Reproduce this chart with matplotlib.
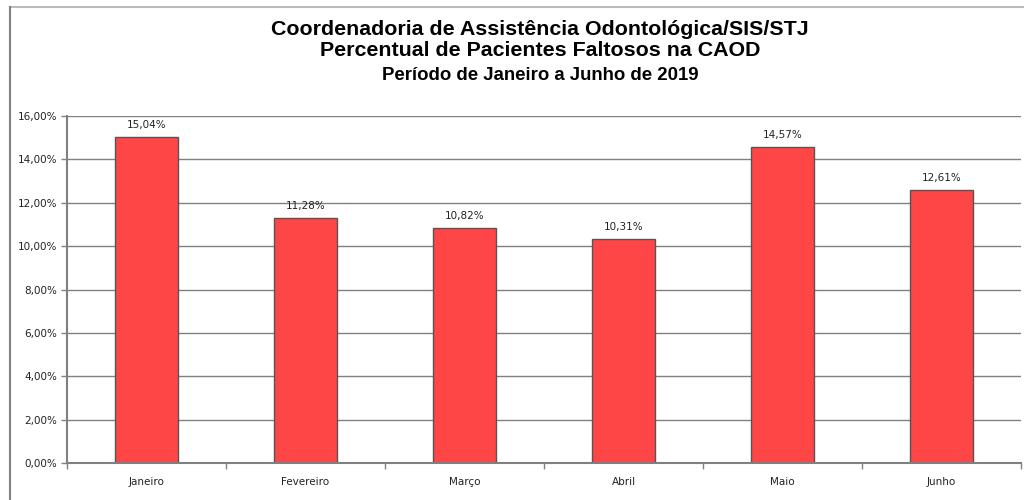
import matplotlib
matplotlib.use("Agg")
import matplotlib.pyplot as plt
from matplotlib.lines import Line2D
from matplotlib.ticker import FuncFormatter, FixedLocator
import numpy as np

months = ["Janeiro", "Fevereiro", "Março", "Abril", "Maio", "Junho"]
values = [15.04, 11.28, 10.82, 10.31, 14.57, 12.61]
yticks = [0, 2, 4, 6, 8, 10, 12, 14, 16]

title1 = "Coordenadoria de Assistência Odontológica/SIS/STJ"
title2 = "Percentual de Pacientes Faltosos na CAOD"
title3 = "Período de Janeiro a Junho de 2019"

def pct(v):
    return f"{v:.2f}".replace(".", ",") + "%"

fig = plt.figure(figsize=(10.24, 5.0), dpi=100)
ax = fig.add_axes([67/1024, 1-463/500, (1021-67)/1024, (463-116)/500])

x = np.arange(len(months))
bars = ax.bar(x, values, width=0.40, color="#ff4646", edgecolor="#555555", linewidth=1.0, zorder=3)

for xi, v in zip(x, values):
    ax.annotate(pct(v), (xi, v), xytext=(0, 5), textcoords="offset points",
                ha="center", va="bottom", fontsize=7.5, family="DejaVu Sans", color="#222222")

ax.set_xlim(-0.5, len(months)-0.5)
ax.set_ylim(0, 16)
ax.set_yticks(yticks)
ax.yaxis.set_major_formatter(FuncFormatter(lambda v, p: pct(v)))
ax.set_xticks(x)
ax.set_xticklabels(months)
ax.xaxis.set_minor_locator(FixedLocator(np.arange(-0.5, len(months), 1.0)))
ax.tick_params(axis="x", which="major", length=0, pad=10, labelsize=7.5, labelcolor="#222222")
ax.tick_params(axis="x", which="minor", length=4, width=1, color="#808080", direction="out")
ax.tick_params(axis="y", which="major", length=4, width=1, color="#808080", labelsize=7.5, labelcolor="#222222", pad=3)

ax.grid(axis="y", color="#808080", linewidth=1.0, zorder=0)
for s in ["top", "right"]:
    ax.spines[s].set_visible(False)
for s in ["left", "bottom"]:
    ax.spines[s].set_color("#808080")
    ax.spines[s].set_linewidth(1.5)
    ax.spines[s].set_zorder(4)

cx = 540/1024
fig.text(cx, 1-35/500, title1, ha="center", va="baseline", fontsize=15.4, fontweight="bold", family="Liberation Sans")
fig.text(cx, 1-56/500, title2, ha="center", va="baseline", fontsize=15.4, fontweight="bold", family="Liberation Sans")
fig.text(cx, 1-80/500, title3, ha="center", va="baseline", fontsize=13.4, fontweight="bold", family="Liberation Sans")

fig.add_artist(Line2D([9.5/1024, 1.0], [1-6.5/500, 1-6.5/500], transform=fig.transFigure, color="#bbbbbb", linewidth=1.5))
fig.add_artist(Line2D([9.5/1024, 9.5/1024], [1-6.5/500, 0.0], transform=fig.transFigure, color="#808080", linewidth=1.5))

fig.savefig("out.png", dpi=100)
